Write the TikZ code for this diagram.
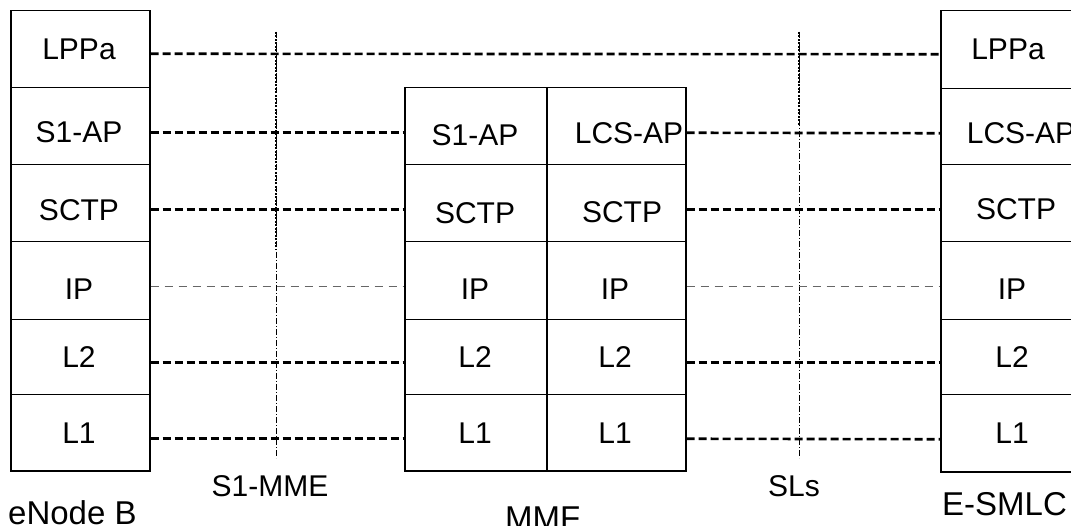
\documentclass[tikz,border=0pt]{standalone}
\usepackage{fontspec}
\setmainfont{Liberation Sans}
\begin{document}
\begin{tikzpicture}[x=1pt,y=-1pt,
  cell/.style={draw, line width=1.5pt, inner sep=0pt, anchor=north west, minimum width=#1},
  cell/.default=139pt,
  lab/.style={inner sep=0pt, font=\fontsize{30}{36}\selectfont},
  big/.style={inner sep=0pt, anchor=base west, font=\fontsize{33}{40}\selectfont},
  thickdash/.style={line width=2.6pt, dash pattern=on 8pt off 4pt},
  thindash/.style={line width=1pt, black!60, dash pattern=on 8pt off 6pt},
  iface/.style={line width=0.8pt, dash pattern=on 6pt off 2pt on 1pt off 2pt},
  ifacedense/.style={line width=1.4pt, dash pattern=on 2pt off 1.5pt}]
\clip (0,0) rectangle (1071,526);
% ---------- eNode B stack ----------
\node[cell, minimum height=77pt] (l1) at (10,10) {};
\node[cell, minimum height=77pt] (l2) at (10,87) {};
\node[cell, minimum height=77pt] (l3) at (10,164) {};
\node[cell, minimum height=78pt] (l4) at (10,241) {};
\node[cell, minimum height=75pt] (l5) at (10,319) {};
\node[cell, minimum height=76pt] (l6) at (10,394) {};
\node[lab] (lt1) at (79,49) {LPPa};
\node[lab] (lt2) at (79,132) {S1-AP};
\node[lab] (lt3) at (79,210) {SCTP};
\node[lab] (lt4) at (79,289) {IP};
\node[lab] (lt5) at (79,357) {L2};
\node[lab] (lt6) at (79,433) {L1};
% ---------- MMF stack ----------
\node[cell=142pt, minimum height=77pt] (ma2) at (404,87) {};
\node[cell=142pt, minimum height=77pt] (ma3) at (404,164) {};
\node[cell=142pt, minimum height=78pt] (ma4) at (404,241) {};
\node[cell=142pt, minimum height=75pt] (ma5) at (404,319) {};
\node[cell=142pt, minimum height=76pt] (ma6) at (404,394) {};
\node[cell, minimum height=77pt] (mb2) at (546,87) {};
\node[cell, minimum height=77pt] (mb3) at (546,164) {};
\node[cell, minimum height=78pt] (mb4) at (546,241) {};
\node[cell, minimum height=75pt] (mb5) at (546,319) {};
\node[cell, minimum height=76pt] (mb6) at (546,394) {};
\node[lab] (mat2) at (475,135) {S1-AP};
\node[lab] (mat3) at (475,213) {SCTP};
\node[lab] (mat4) at (475,289) {IP};
\node[lab] (mat5) at (475,357) {L2};
\node[lab] (mat6) at (475,433) {L1};
\node[lab] (mbt2) at (629,133) {LCS-AP};
\node[lab] (mbt3) at (622,212) {SCTP};
\node[lab] (mbt4) at (615,289) {IP};
\node[lab] (mbt5) at (615,357) {L2};
\node[lab] (mbt6) at (615,433) {L1};
% ---------- E-SMLC stack ----------
\node[cell, minimum height=78pt] (r1) at (940,10) {};
\node[cell, minimum height=76pt] (r2) at (940,88) {};
\node[cell, minimum height=77pt] (r3) at (940,164) {};
\node[cell, minimum height=78pt] (r4) at (940,241) {};
\node[cell, minimum height=75pt] (r5) at (940,319) {};
\node[cell, minimum height=77pt] (r6) at (940,394) {};
\node[lab] (rt1) at (1008,49) {LPPa};
\node[lab] (rt2) at (1021,133) {LCS-AP};
\node[lab] (rt3) at (1016,209) {SCTP};
\node[lab] (rt4) at (1012,289) {IP};
\node[lab] (rt5) at (1012,357) {L2};
\node[lab] (rt6) at (1012,433) {L1};
% ---------- interface lines ----------
\coordinate (s1top) at (276,32);
\coordinate (s1mid) at (276,250);
\coordinate (s1bot) at (276,458);
\coordinate (sltop) at (799,32);
\coordinate (slmid) at (799,125);
\coordinate (slbot) at (799,458);
\draw[iface] (s1top) -- (s1bot);
\draw[ifacedense] (s1top) -- (s1mid);
\draw[iface] (sltop) -- (slbot);
\draw[ifacedense] (sltop) -- (slmid);
% ---------- peer connectors ----------
\draw[thickdash] ([yshift=-4.5pt]l1.east) -- ([yshift=-4.5pt]r1.west);
\draw[thickdash] ([yshift=-6.5pt]l2.east) -- ([yshift=-6.5pt]ma2.west);
\draw[thickdash] ([yshift=-6.5pt]mb2.east) -- ([yshift=-6.5pt]r2.west);
\draw[thickdash] ([yshift=-6.5pt]l3.east) -- ([yshift=-6.5pt]ma3.west);
\draw[thickdash] ([yshift=-6.5pt]mb3.east) -- ([yshift=-6.5pt]r3.west);
\draw[thindash] ([yshift=-6pt]l4.east) -- ([yshift=-6pt]ma4.west);
\draw[thindash] ([yshift=-6pt]mb4.east) -- ([yshift=-6pt]r4.west);
\draw[thickdash] ([yshift=-5.5pt]l5.east) -- ([yshift=-5.5pt]ma5.west);
\draw[thickdash] ([yshift=-5.5pt]mb5.east) -- ([yshift=-5.5pt]r5.west);
\draw[thickdash] ([yshift=-6pt]l6.east) -- ([yshift=-6pt]ma6.west);
\draw[thickdash] ([yshift=-6pt]mb6.east) -- ([yshift=-6pt]r6.west);
% ---------- labels ----------
\node[lab] (s1lab) at (270,486) {S1-MME};
\node[lab] (sllab) at (794,486) {SLs};
\node[big] (enb) at (8,524) {eNode B};
\node[big] (mmf) at (505,529) {MMF};
\node[big] (esmlc) at (942,515) {E-SMLC};
\end{tikzpicture}
\end{document}
